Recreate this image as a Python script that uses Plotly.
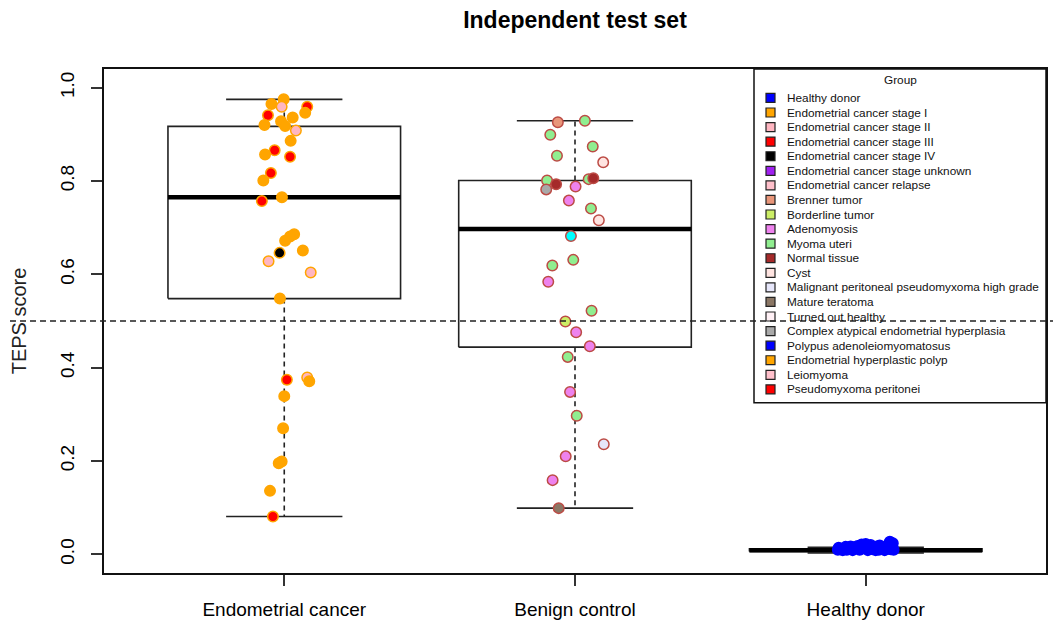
import plotly.graph_objects as go

# ---------------- data ----------------
categories = ["Endometrial cancer", "Benign control", "Healthy donor"]

# box statistics (per category)
q1 = [0.548, 0.444, 0.006]
median = [0.765, 0.697, 0.009]
q3 = [0.917, 0.801, 0.012]
lower_whisker = [0.081, 0.099, 0.003]
upper_whisker = [0.975, 0.929, 0.015]

# legend groups and colours
legend_labels = [
    "Healthy donor", "Endometrial cancer stage I", "Endometrial cancer stage II",
    "Endometrial cancer stage III", "Endometrial cancer stage IV",
    "Endometrial cancer stage unknown", "Endometrial cancer relapse", "Brenner tumor",
    "Borderline tumor", "Adenomyosis", "Myoma uteri", "Normal tissue", "Cyst",
    "Malignant peritoneal pseudomyxoma high grade", "Mature teratoma",
    "Turned out healthy", "Complex atypical endometrial hyperplasia",
    "Polypus adenoleiomyomatosus", "Endometrial hyperplastic polyp", "Leiomyoma",
    "Pseudomyxoma peritonei",
]
legend_colors = [
    "#0000FF", "#FFA500", "#FFB6C1", "#FF0000", "#000000", "#A020F0", "#FFC0CB",
    "#E9967A", "#CCEE66", "#EE82EE", "#90EE90", "#A52A2A", "#FFE4E1", "#E6E6FA",
    "#8B7765", "#FFF0F5", "#A9A9A9", "#0000FF", "#FFA500", "#FFC0CB", "#FF0000",
]
extra_colors = {"Other": "#00FFFF"}

# Endometrial cancer points
endo_score = [0.975, 0.965, 0.959, 0.959, 0.946, 0.941, 0.936, 0.928, 0.920, 0.918,
              0.908, 0.886, 0.866, 0.857, 0.852, 0.817, 0.801, 0.765, 0.757, 0.686,
              0.681, 0.672, 0.651, 0.646, 0.628, 0.604, 0.548, 0.374, 0.379, 0.371,
              0.339, 0.270, 0.199, 0.195, 0.136, 0.081]
endo_jitter = [-0.002, -0.044, -0.009, 0.079, 0.072, -0.056, 0.029, -0.011, -0.068, 0.003,
               0.040, 0.022, -0.033, -0.066, 0.020, -0.046, -0.072, -0.008, -0.077, 0.034,
               0.020, 0.003, 0.064, -0.016, -0.054, 0.091, -0.015, 0.009, 0.079, 0.086,
               0.000, -0.004, -0.009, -0.019, -0.049, -0.039]
S1, S2, S3, S4 = ("Endometrial cancer stage I", "Endometrial cancer stage II",
                  "Endometrial cancer stage III", "Endometrial cancer stage IV")
endo_group = [S1, S1, S2, S3, S1, S3, S1, S1, S1, S1,
              S2, S1, S3, S1, S3, S3, S1, S1, S3, S1,
              S1, S1, S1, S4, S2, S2, S1, S3, S2, S1,
              S1, S1, S1, S1, S1, S3]

# Benign control points
benign_score = [0.926, 0.929, 0.899, 0.874, 0.854, 0.840, 0.801, 0.793, 0.782, 0.804,
                0.806, 0.788, 0.758, 0.741, 0.716, 0.682, 0.631, 0.619, 0.584, 0.522,
                0.499, 0.476, 0.446, 0.423, 0.348, 0.297, 0.236, 0.210, 0.159, 0.099]
benign_jitter = [-0.059, 0.034, -0.085, 0.061, -0.062, 0.097, -0.096, -0.065, -0.099, 0.047,
                 0.063, 0.002, -0.021, 0.055, 0.082, -0.014, -0.006, -0.078, -0.092, 0.057,
                 -0.033, 0.004, 0.051, -0.025, -0.017, 0.006, 0.099, -0.032, -0.077, -0.056]
MY, AD, CY = "Myoma uteri", "Adenomyosis", "Cyst"
benign_group = ["Brenner tumor", MY, MY, MY, MY, CY, MY, "Normal tissue",
                "Complex atypical endometrial hyperplasia", MY,
                "Normal tissue", AD, AD, MY, CY, "Other", MY, MY, AD, MY,
                "Borderline tumor", AD, AD, MY, AD, MY,
                "Malignant peritoneal pseudomyxoma high grade", AD, AD, "Mature teratoma"]

# Healthy donor points
healthy_score = [0.010, 0.014, 0.009, 0.016, 0.012, 0.017, 0.009, 0.013, 0.018, 0.010,
                 0.021, 0.015, 0.022, 0.009, 0.017, 0.020, 0.011, 0.014, 0.017, 0.010,
                 0.016, 0.012, 0.009, 0.015, 0.022, 0.027, 0.011, 0.018, 0.024, 0.010,
                 0.011, 0.010, 0.015, 0.013, 0.019, 0.011, 0.012, 0.009]
healthy_jitter = [-0.096, -0.093, -0.079, -0.069, -0.058, -0.052, -0.045, -0.034, -0.028, -0.021,
                  -0.014, -0.007, 0.000, 0.007, 0.010, 0.017, 0.024, 0.031, 0.038, 0.045,
                  0.052, 0.058, 0.065, 0.072, 0.079, 0.083, 0.086, 0.089, 0.093, 0.096,
                  -0.086, -0.065, -0.041, 0.014, 0.048, 0.069, -0.017, 0.034]
healthy_group = ["Healthy donor"] * len(healthy_score)

point_borders = ["#FFA500", "#BC4B45", "#0000FF"]
threshold = 0.5

# ---------------- styling ----------------
FONT = "Liberation Sans, Arial, sans-serif"
PAGE_W, PAGE_H = 1061, 621
OFF = 8  # default body margin of the html page
W, H = PAGE_W - OFF, PAGE_H - OFF
# plot area in page pixels
PL, PR, PT, PB = 104, 1046, 68.5, 573.5
ML, MR, MT, MB = PL - OFF, PAGE_W - PR, PT - OFF, PAGE_H - PB
XR = [0.38, 3.62]
YR = [-0.04, 1.04]
BOX_HALF = 0.4
CAP_HALF = 0.2

color_of = dict(zip(legend_labels, legend_colors))
color_of.update(extra_colors)

fig = go.Figure()

# boxes
rect_x, rect_y, med_x, med_y, wh_x, wh_y, cap_x, cap_y = [], [], [], [], [], [], [], []
for i in range(len(categories)):
    p = i + 1
    rect_x += [p - BOX_HALF, p + BOX_HALF, p + BOX_HALF, p - BOX_HALF, p - BOX_HALF, None]
    rect_y += [q1[i], q1[i], q3[i], q3[i], q1[i], None]
    med_x += [p - BOX_HALF, p + BOX_HALF, None]
    med_y += [median[i], median[i], None]
    wh_x += [p, p, None, p, p, None]
    wh_y += [q3[i], upper_whisker[i], None, q1[i], lower_whisker[i], None]
    cap_x += [p - CAP_HALF, p + CAP_HALF, None, p - CAP_HALF, p + CAP_HALF, None]
    cap_y += [upper_whisker[i], upper_whisker[i], None, lower_whisker[i], lower_whisker[i], None]

line_col = "#222222"
fig.add_trace(go.Scatter(x=wh_x, y=wh_y, mode="lines", line=dict(color=line_col, width=1.6, dash="5px,4px"),
                         hoverinfo="skip", showlegend=False))
fig.add_trace(go.Scatter(x=cap_x, y=cap_y, mode="lines", line=dict(color=line_col, width=1.6),
                         hoverinfo="skip", showlegend=False))
fig.add_trace(go.Scatter(x=rect_x, y=rect_y, mode="lines", line=dict(color=line_col, width=1.6),
                         hoverinfo="skip", showlegend=False))
fig.add_trace(go.Scatter(x=med_x, y=med_y, mode="lines", line=dict(color="#000000", width=4.5),
                         hoverinfo="skip", showlegend=False))

# points
series = [(endo_score, endo_jitter, endo_group),
          (benign_score, benign_jitter, benign_group),
          (healthy_score, healthy_jitter, healthy_group)]
for i, (ys, dxs, grp) in enumerate(series):
    fig.add_trace(go.Scatter(
        x=[i + 1 + d for d in dxs], y=ys, mode="markers",
        marker=dict(size=10.5, color=[color_of[g] for g in grp],
                    line=dict(color=point_borders[i], width=1.5)),
        text=grp, name=categories[i], showlegend=False,
    ))

# ---------------- manual legend (R style) ----------------
def px_x(v):
    return (v - PL) / (PR - PL)


def px_y(v):
    return (PB - v) / (PB - PT)


shapes = []
annotations = []
LEG_L, LEG_R, LEG_T, LEG_B = 754, 1046, 68.5, 403
shapes.append(dict(type="rect", xref="paper", yref="paper",
                   x0=px_x(LEG_L), x1=px_x(LEG_R), y0=px_y(LEG_B), y1=px_y(LEG_T),
                   line=dict(color="#111111", width=1.5), fillcolor="white", layer="above"))
annotations.append(dict(text="Group", xref="paper", yref="paper", x=px_x(900), y=px_y(79.5),
                        showarrow=False, xanchor="center", yanchor="middle",
                        font=dict(family=FONT, size=11.8, color="#111111")))
first, step = 97.5, 14.6
for k, (lab, col) in enumerate(zip(legend_labels, legend_colors)):
    yc = first + step * k
    shapes.append(dict(type="rect", xref="paper", yref="paper",
                       x0=px_x(766), x1=px_x(775), y0=px_y(yc + 4.5), y1=px_y(yc - 4.5),
                       line=dict(color="#222222", width=1.2), fillcolor=col, layer="above"))
    annotations.append(dict(text=lab, xref="paper", yref="paper", x=px_x(785), y=px_y(yc),
                            showarrow=False, xanchor="left", yanchor="middle",
                            font=dict(family=FONT, size=11.8, color="#111111")))

# threshold line spanning the whole figure width
thr_paper = (threshold - YR[0]) / (YR[1] - YR[0])
shapes.append(dict(type="line", xref="paper", yref="paper",
                   x0=px_x(0), x1=px_x(PAGE_W), y0=thr_paper, y1=thr_paper,
                   line=dict(color="#222222", width=1.6, dash="6px,4px"), layer="above"))

fig.update_layout(
    width=W, height=H,
    margin=dict(l=ML, r=MR, t=MT, b=MB, autoexpand=False),
    paper_bgcolor="white", plot_bgcolor="white",
    showlegend=False,
    title=dict(text="<b>Independent test set</b>", x=px_x(575), xref="paper",
               y=1 - (20 - OFF) / H, yref="container", xanchor="center", yanchor="middle",
               automargin=False,
               font=dict(family=FONT, size=23, color="#000000")),
    xaxis=dict(range=XR, tickvals=[1, 2, 3], ticktext=categories, showgrid=False, zeroline=False,
               showline=True, mirror=True, linecolor="#111111", linewidth=1.5,
               ticks="outside", ticklen=11, tickwidth=1.5, tickcolor="#333333",
               ticklabelstandoff=7, automargin=False,
               tickfont=dict(family=FONT, size=19, color="#000000")),
    yaxis=dict(range=YR, tickvals=[0, 0.2, 0.4, 0.6, 0.8, 1.0],
               ticktext=["0.0", "0.2", "0.4", "0.6", "0.8", "1.0"],
               tickangle=-90, showgrid=False, zeroline=False,
               showline=True, mirror=True, linecolor="#111111", linewidth=1.5,
               ticks="outside", ticklen=11, tickwidth=1.5, tickcolor="#333333",
               ticklabelstandoff=10, automargin=False,
               tickfont=dict(family=FONT, size=19, color="#000000"),
               title=dict(text="TEPS score", standoff=25,
                          font=dict(family=FONT, size=20, color="#222222"))),
    shapes=shapes,
    annotations=annotations,
)

fig.write_html("out.html")
